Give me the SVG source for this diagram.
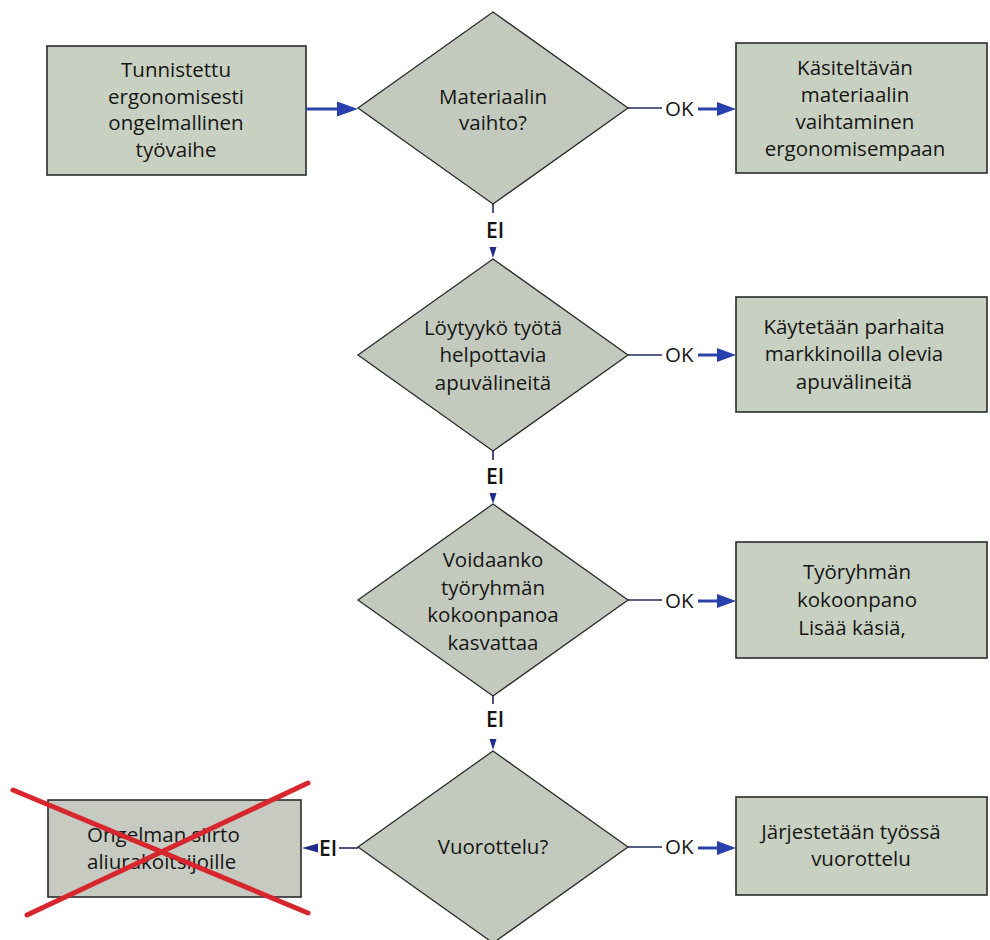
<svg xmlns="http://www.w3.org/2000/svg" width="990" height="940" viewBox="0 0 990 940">
  <style>
    .box { fill: #c8d0c1; stroke: #2b2b2b; stroke-width: 1.6; }
    .dia { fill: #c3cabd; stroke: #2b2b2b; stroke-width: 1.3; }
    .t { font-family: "Open Sans", "Noto Sans", "Liberation Sans", sans-serif; font-size: 20.5px; font-weight: 500; fill: #161616; text-anchor: middle; }
    .lbl { font-family: "Open Sans", "Noto Sans", "Liberation Sans", sans-serif; font-size: 20.5px; font-weight: 500; fill: #161616; }
    .ei { font-family: "Open Sans", "Noto Sans", "Liberation Sans", sans-serif; font-size: 21px; font-weight: 600; fill: #161616; }
    .thin { stroke: #1f2a5c; stroke-width: 1.6; fill: none; }
    .thick { stroke: #2b43a6; stroke-width: 3; fill: none; }
    .head { fill: #2a3fae; }
    .headv { fill: #1f2d8a; }
    .cross { stroke: #d8262f; stroke-width: 5; stroke-linecap: round; }
  </style>

  <rect width="990" height="940" fill="#ffffff"/>

  <!-- start box -->
  <g id="start">
    <rect class="box" x="47" y="46" width="259" height="129"/>
    <text class="t" x="176" y="77">Tunnistettu</text>
    <text class="t" x="176" y="103.5">ergonomisesti</text>
    <text class="t" x="176" y="130">ongelmallinen</text>
    <text class="t" x="176" y="156.5">työvaihe</text>
  </g>

  <!-- decision 1 -->
  <g id="d1">
    <polygon class="dia" points="493,12 628,108 493,204 358,108"/>
    <text class="t" x="493" y="104">Materiaalin</text>
    <text class="t" x="493" y="130">vaihto?</text>
  </g>

  <g id="r1">
    <rect class="box" x="736" y="43" width="251" height="130"/>
    <text class="t" x="855" y="75">Käsiteltävän</text>
    <text class="t" x="855" y="102">materiaalin</text>
    <text class="t" x="855" y="129">vaihtaminen</text>
    <text class="t" x="855" y="156">ergonomisempaan</text>
  </g>

  <!-- decision 2 -->
  <g id="d2">
    <polygon class="dia" points="493,259 628,355 493,451 358,355"/>
    <text class="t" x="493" y="335">Löytyykö työtä</text>
    <text class="t" x="493" y="362">helpottavia</text>
    <text class="t" x="493" y="390">apuvälineitä</text>
  </g>

  <g id="r2">
    <rect class="box" x="736" y="297" width="251" height="115"/>
    <text class="t" x="854" y="334">Käytetään parhaita</text>
    <text class="t" x="854" y="361">markkinoilla olevia</text>
    <text class="t" x="854" y="389">apuvälineitä</text>
  </g>

  <!-- decision 3 -->
  <g id="d3">
    <polygon class="dia" points="493,504 628,600 493,696 358,600"/>
    <text class="t" x="493" y="567">Voidaanko</text>
    <text class="t" x="493" y="594.5">työryhmän</text>
    <text class="t" x="493" y="622">kokoonpanoa</text>
    <text class="t" x="493" y="649.5">kasvattaa</text>
  </g>

  <g id="r3">
    <rect class="box" x="736" y="542" width="251" height="116"/>
    <text class="t" x="857" y="579">Työryhmän</text>
    <text class="t" x="857" y="607">kokoonpano</text>
    <text class="t" x="852" y="635">Lisää käsiä,</text>
  </g>

  <!-- decision 4 -->
  <g id="d4">
    <polygon class="dia" points="493,751 628,847 493,943 358,847"/>
    <text class="t" x="493" y="854">Vuorottelu?</text>
  </g>

  <g id="r4">
    <rect class="box" x="736" y="797" width="251" height="98"/>
    <text class="t" x="851" y="839">Järjestetään työssä</text>
    <text class="t" x="861" y="866">vuorottelu</text>
  </g>

  <!-- rejected option, struck through -->
  <g id="rejected">
    <rect class="box" x="48" y="800" width="253" height="97" style="fill:#c6cac0"/>
    <text class="lbl" x="87" y="842">Ongelman siirto</text>
    <text class="lbl" x="87" y="869">aliurakoitsijoille</text>
    <line class="cross" x1="13" y1="790" x2="308" y2="913"/>
    <line class="cross" x1="27" y1="915" x2="308" y2="783"/>
  </g>

  <!-- connectors -->
  <g id="connectors">
    <!-- start -> d1 -->
    <line class="thick" x1="306" y1="109" x2="340" y2="109"/>
    <polygon class="head" points="337,101.5 358,109 337,116.5"/>

    <!-- OK branches -->
    <line class="thin" x1="628" y1="108" x2="662" y2="108"/>
    <text class="lbl" x="665" y="116">OK</text>
    <line class="thick" x1="698" y1="109" x2="720" y2="109"/>
    <polygon class="head" points="717,102 736,109 717,116"/>

    <line class="thin" x1="628" y1="355" x2="662" y2="355"/>
    <text class="lbl" x="665" y="362">OK</text>
    <line class="thick" x1="698" y1="355" x2="720" y2="355"/>
    <polygon class="head" points="717,348 736,355 717,362"/>

    <line class="thin" x1="628" y1="600" x2="662" y2="600"/>
    <text class="lbl" x="665" y="608">OK</text>
    <line class="thick" x1="698" y1="601" x2="720" y2="601"/>
    <polygon class="head" points="717,594 736,601 717,608"/>

    <line class="thin" x1="628" y1="847" x2="662" y2="847"/>
    <text class="lbl" x="665" y="854">OK</text>
    <line class="thick" x1="698" y1="848" x2="720" y2="848"/>
    <polygon class="head" points="717,841 736,848 717,855"/>

    <!-- EI branches downward -->
    <line class="thin" x1="493" y1="204" x2="493" y2="213"/>
    <text class="ei" x="486" y="238">EI</text>
    <polygon class="headv" points="489.5,247 496.5,247 493,258"/>

    <line class="thin" x1="493" y1="451" x2="493" y2="460"/>
    <text class="ei" x="486" y="484">EI</text>
    <polygon class="headv" points="489.5,493 496.5,493 493,504"/>

    <line class="thin" x1="493" y1="696" x2="493" y2="704"/>
    <text class="ei" x="486" y="727">EI</text>
    <polygon class="headv" points="489.5,739 496.5,739 493,750"/>

    <!-- EI branch to the left -->
    <line class="thin" x1="358" y1="848" x2="339" y2="848"/>
    <text class="ei" x="319" y="856">EI</text>
    <polygon class="headv" points="318,843.5 318,852.5 302,848"/>
  </g>
</svg>
